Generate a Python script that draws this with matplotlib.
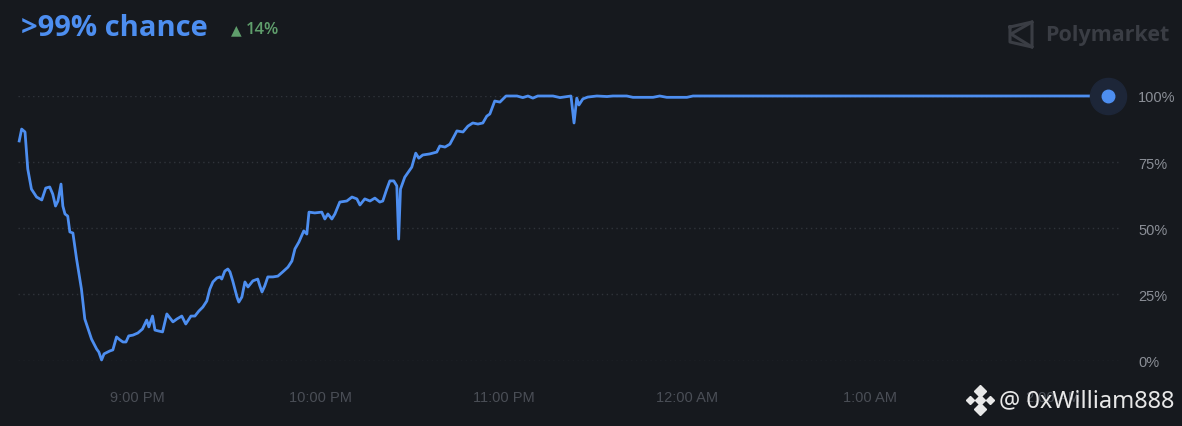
import matplotlib
matplotlib.use("Agg")
import matplotlib.pyplot as plt
from matplotlib.lines import Line2D

# minutes relative to 9:00 PM, chance in %
minutes = [-38.9, -38.1, -37.0, -36.1, -34.9, -33.2, -31.5, -30.2, -28.9, -27.9,
           -27.0, -26.2, -25.2, -24.6, -23.9, -23.0, -22.3, -21.3, -20.1, -18.5,
           -17.4, -15.2, -13.5, -12.8, -11.9, -11.1, -9.2, -8.2, -7.0, -5.9,
           -4.9, -3.9, -3.0, -1.6, 0.0, 1.5, 2.9, 3.6, 4.8, 5.6,
           6.6, 8.1, 9.5, 11.5, 12.8, 14.4, 15.7, 17.4, 18.7, 20.0,
           21.3, 22.6, 23.6, 24.6, 25.9, 26.9, 27.5, 28.5, 29.5, 30.2,
           31.1, 32.5, 33.1, 34.1, 35.1, 36.1, 37.7, 39.3, 40.0, 40.7,
           41.6, 42.6, 44.3, 45.9, 47.5, 49.2, 50.5, 51.5, 52.8, 54.4,
           55.4, 56.1, 58.0, 60.3, 61.3, 62.3, 63.6, 64.6, 66.2, 68.5,
           70.2, 71.8, 72.8, 74.4, 76.1, 77.7, 79.3, 80.3, 81.6, 82.6,
           83.9, 84.9, 85.5, 86.1, 87.5, 89.8, 91.1, 92.1, 93.4, 95.7,
           98.0, 99.0, 100.7, 102.3, 104.6, 106.6, 108.2, 109.8, 111.5, 113.1,
           114.4, 115.4, 117.0, 118.7, 120.7, 124.3, 126.2, 127.9, 129.5, 131.1,
           136.1, 138.4, 142.0, 143.0, 143.9, 144.6, 145.9, 147.5, 150.5, 153.8,
           155.7, 160.3, 162.3, 168.9, 171.1, 173.4, 180.0, 182.0, 318.0]
chance = [83.0, 87.5, 86.4, 72.4, 64.8, 61.8, 60.7, 65.2, 65.6, 62.9,
          58.4, 60.3, 66.7, 58.4, 55.4, 54.6, 48.6, 48.2, 38.4, 27.0,
          15.7, 8.1, 4.3, 3.2, 0.2, 2.5, 3.6, 4.0, 8.9, 7.8,
          7.0, 7.0, 9.3, 9.6, 10.4, 11.9, 15.3, 12.7, 16.8, 11.5,
          11.2, 10.8, 17.6, 14.6, 15.7, 16.8, 13.8, 16.8, 16.8, 18.7,
          20.2, 22.5, 27.0, 29.7, 31.2, 31.6, 30.8, 33.8, 34.6, 33.5,
          30.1, 24.0, 22.1, 24.0, 29.7, 27.8, 30.1, 30.8, 28.2, 25.9,
          28.2, 31.6, 31.6, 31.9, 33.5, 35.3, 37.6, 42.2, 44.8, 49.0,
          47.8, 56.1, 55.8, 56.1, 53.5, 55.4, 53.5, 55.4, 59.9, 60.3,
          61.8, 61.1, 58.8, 61.1, 60.3, 61.4, 59.9, 60.3, 64.8, 67.9,
          67.9, 66.0, 45.9, 64.8, 69.3, 73.1, 78.4, 76.5, 77.7, 78.1,
          78.8, 81.1, 80.7, 81.8, 86.8, 86.4, 88.6, 89.8, 89.4, 89.8,
          92.4, 93.2, 98.1, 97.7, 100.0, 100.0, 99.4, 100.0, 99.2, 100.0,
          100.0, 99.4, 100.0, 89.8, 99.2, 96.6, 98.9, 99.6, 100.0, 99.8,
          100.0, 100.0, 99.5, 99.5, 100.0, 99.5, 99.5, 100.0, 100.0]

tick_minutes = [0, 60, 120, 180, 240, 300]
tick_labels = ["9:00 PM", "10:00 PM", "11:00 PM", "12:00 AM", "1:00 AM", "2:00 AM"]
y_ticks = [0, 25, 50, 75, 100]
y_labels = ["0%", "25%", "50%", "75%", "100%"]

W, H = 1182, 427
bg = "#16191e"
blue = "#4d8ef0"

fig = plt.figure(figsize=(W / 100, H / 100), dpi=100, facecolor=bg)


def px(x, y):
    return x / W, 1 - y / H


ax = fig.add_axes([18 / W, (H - 361.5) / H, (1120 - 18) / W, (361.5 - 97) / H])
ax.set_facecolor(bg)
ax.set_xlim(-39.3, 322.0)
ax.set_ylim(0, 100)

for v in y_ticks:
    ax.axhline(v, color="#30343b", lw=1, ls=(0, (1, 2.5)), zorder=0)

ax.plot(minutes, chance, color=blue, lw=2, clip_on=False, solid_joinstyle="round")
ax.plot(minutes[-1], chance[-1], "o", ms=26, color="#1d2638", clip_on=False, zorder=3)
ax.plot(minutes[-1], chance[-1], "o", ms=9, color=blue, clip_on=False, zorder=4)

for s in ax.spines.values():
    s.set_visible(False)
ax.set_xticks(tick_minutes)
ax.set_xticklabels(tick_labels, family="Liberation Sans", fontsize=10.5, color="#4a4e56")
ax.tick_params(axis="x", length=0, pad=21)
ax.yaxis.tick_right()
ax.set_yticks(y_ticks)
ax.set_yticklabels(y_labels, family="Liberation Sans", fontsize=10.5, color="#8a8e96")
ax.tick_params(axis="y", length=0, pad=13)

# header
fig.text(*px(21, 28), ">99% chance", fontsize=21, color=blue, fontweight="bold",
         family="Open Sans", va="center", ha="left")
fig.text(*px(231, 30), "\u25b2", fontsize=10, color="#5f9e6c", va="center", ha="left",
         family="DejaVu Sans")
fig.text(*px(246, 30), "14%", fontsize=12, color="#5f9e6c", va="center", ha="left",
         family="Open Sans", fontweight="semibold")

# Polymarket mark
logo_c = "#3a3d44"
xs = [1010, 1032, 1032, 1010, 1010]
ys = [28, 23, 48, 43, 28]
fig.add_artist(Line2D([x / W for x in xs], [1 - y / H for y in ys], color=logo_c, lw=2.2))
fig.add_artist(Line2D([1032 / W, 1011 / W, 1032 / W], [1 - 23 / H, 1 - 35 / H, 1 - 48 / H],
                      color=logo_c, lw=2.2))
fig.text(*px(1045, 35), "Polymarket", fontsize=15.5, color=logo_c, fontweight="bold",
         family="Open Sans", va="center", ha="left")

# watermark
wm = "#e8e8e8"
for dx, dy, s in [(0, -9, 6), (0, 9, 6), (-10, 0, 4.5), (10, 0, 4.5), (0, 0, 5)]:
    fig.add_artist(Line2D([(980 + dx) / W], [1 - (401 + dy) / H], marker="D", ms=s,
                          color=wm, lw=0, zorder=5))
fig.text(*px(999, 401), "@ 0xWilliam888", fontsize=17, color=wm, va="center", ha="left",
         family="Noto Sans", zorder=5)

fig.savefig("out.png", dpi=100, facecolor=bg)
